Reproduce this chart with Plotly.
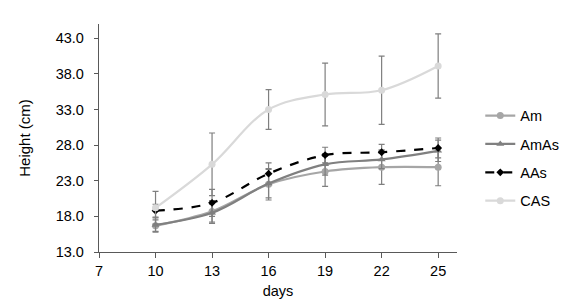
import plotly.graph_objects as go

days = [10, 13, 16, 19, 22, 25]

am = [16.7, 18.7, 22.5, 24.3, 24.9, 24.9]
am_err = [0.8, 1.5, 2.2, 2.1, 2.4, 2.6]

amas = [16.8, 18.5, 22.6, 25.3, 26.0, 27.2]
amas_err = [1.0, 1.5, 2.0, 1.5, 1.3, 1.5]

aas = [18.8, 19.9, 24.0, 26.6, 27.0, 27.6]
aas_err = [0.9, 1.9, 1.5, 1.1, 1.1, 1.4]

cas = [19.2, 25.3, 33.0, 35.1, 35.7, 39.1]
cas_err = [2.3, 4.4, 2.8, 4.4, 4.8, 4.5]

y_ticks = [13, 18, 23, 28, 33, 38, 43]
x_ticks = [7, 10, 13, 16, 19, 22, 25]

FONT = "Liberation Sans, Arial, sans-serif"
ERR_COL = "#7f7f7f"

series = [
    ("Am", am, am_err, "#a6a6a6", "solid", "circle", 7),
    ("AmAs", amas, amas_err, "#808080", "solid", "triangle-up", 7),
    ("AAs", aas, aas_err, "#000000", "dash", "diamond", 6),
    ("CAS", cas, cas_err, "#d9d9d9", "solid", "circle", 7),
]

fig = go.Figure()
for i, (name, vals, err, col, dash, sym, ms) in enumerate(series):
    fig.add_trace(go.Scatter(
        x=days, y=vals, name=name, mode="lines+markers",
        line=dict(color=col, width=2.2, dash=dash, shape="spline", smoothing=1),
        marker=dict(color=col, symbol=sym, size=ms),
        error_y=dict(type="data", array=err, visible=True,
                     color=ERR_COL, thickness=1.2, width=3),
        legendgroup=f"g{i}",
    ))

fig.update_layout(
    width=568, height=306,
    margin=dict(l=91, r=116, t=16, b=62),
    paper_bgcolor="white", plot_bgcolor="white",
    font=dict(family=FONT, size=14.5, color="#000000"),
    showlegend=True,
    legend=dict(x=1.065, xanchor="left", y=0.668, yanchor="top",
                traceorder="grouped", tracegroupgap=6.5,
                font=dict(family=FONT, size=14.5, color="#000000"),
                bgcolor="rgba(0,0,0,0)"),
    xaxis=dict(range=[7, 26], tickvals=x_ticks, ticktext=[str(v) for v in x_ticks],
               showgrid=False, zeroline=False, showline=True,
               linecolor="#595959", linewidth=1.3,
               ticks="outside", ticklen=5, tickcolor="#595959",
               tickfont=dict(size=14.5),
               title=dict(text="days", font=dict(size=14.5), standoff=8)),
    yaxis=dict(range=[13, 45], tickvals=y_ticks, ticktext=[f"{v:.1f}" for v in y_ticks],
               showgrid=False, zeroline=False, showline=True,
               linecolor="#595959", linewidth=1.3,
               ticks="outside", ticklen=4, tickcolor="#595959",
               ticklabelstandoff=7,
               tickfont=dict(size=14.5),
               title=dict(text="Height (cm)", font=dict(size=15), standoff=21)),
)

fig.write_html("out.html")
